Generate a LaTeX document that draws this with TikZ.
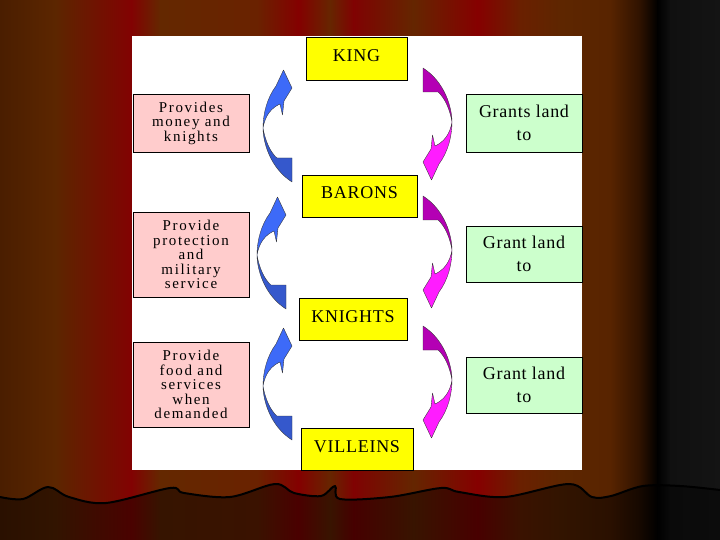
\documentclass[tikz,border=0pt]{standalone}
\usepackage{fontspec}
\setmainfont{Liberation Serif}
\newfontfamily\bigf[LetterSpace=4]{Liberation Serif}
\newfontfamily\smallf[LetterSpace=11]{Liberation Serif}
% bright curtain stops
\definecolor{b0}{HTML}{4A1E00}
\definecolor{b1}{HTML}{5C2600}
\definecolor{b2}{HTML}{820202}
\definecolor{b3}{HTML}{642800}
\definecolor{b4}{HTML}{6A2200}
\definecolor{b5}{HTML}{840000}
\definecolor{b6}{HTML}{662600}
\definecolor{b7}{HTML}{800202}
\definecolor{b8}{HTML}{642600}
\definecolor{b9}{HTML}{860000}
\definecolor{b10}{HTML}{6A2000}
\definecolor{b11}{HTML}{5E2600}
\definecolor{b12}{HTML}{582400}
\definecolor{b13}{HTML}{2E1200}
\definecolor{b14}{HTML}{000000}
\definecolor{b15}{HTML}{101010}
\definecolor{b16}{HTML}{141414}
% dark (below hem) stops
\definecolor{d0}{HTML}{2A1000}
\definecolor{d1}{HTML}{321400}
\definecolor{d2}{HTML}{4A0200}
\definecolor{d3}{HTML}{361400}
\definecolor{d4}{HTML}{3A1200}
\definecolor{d5}{HTML}{4A0000}
\definecolor{d6}{HTML}{381400}
\definecolor{d7}{HTML}{460000}
\definecolor{d8}{HTML}{381400}
\definecolor{d9}{HTML}{480000}
\definecolor{d10}{HTML}{3A1200}
\definecolor{d11}{HTML}{321400}
\definecolor{d12}{HTML}{2A1000}
\definecolor{d13}{HTML}{150800}
\definecolor{d14}{HTML}{000000}
\definecolor{d15}{HTML}{0A0A0A}
\definecolor{d16}{HTML}{0C0C0C}
\definecolor{kingyellow}{HTML}{FFFF00}
\definecolor{pinkbox}{HTML}{FFCCCC}
\definecolor{greenbox}{HTML}{CCFFCC}
\definecolor{bluehead}{HTML}{3D6AF8}
\definecolor{bluetail}{HTML}{3558CC}
\definecolor{maghead}{HTML}{FF1CFF}
\definecolor{magtail}{HTML}{B400B4}
\begin{document}
\begin{tikzpicture}[x=1pt,y=-1pt,
  box/.style={draw=black, line width=0.8pt, inner sep=0pt, outer sep=0pt, align=center},
  ybox/.style={box, fill=kingyellow, font={\bigf\fontsize{18}{23}\selectfont}, text height=12pt, text depth=6pt},
  pbox/.style={box, fill=pinkbox, font={\smallf\fontsize{15}{14.5}\selectfont}, minimum width=116pt},
  gbox/.style={box, fill=greenbox, font={\bigf\fontsize{18}{23.5}\selectfont}, minimum width=116pt},
  shadowline/.style={draw=black, line width=1pt},
  hemline/.style={draw=black, line width=2pt, line join=round},
  arrowedge/.style={draw=black!80, line width=0.35pt, line join=round},
  pics/curvarrow/.style 2 args={code={
    \draw[arrowedge, fill=#1]
      (0,0) .. controls (0,-14) and (4,-30) .. (13,-42) -- (20.5,-58) -- (29,-40)
      -- (21,-27) -- (19.5,-13) -- (17,-24) .. controls (8,-20) and (2,-12) .. cycle;
    \draw[arrowedge, fill=#2]
      (0,0) .. controls (0,14) and (7,40) .. (29,54) -- (29,30) -- (14,30)
      .. controls (7,24) and (2,12) .. cycle;
  }}
]
\useasboundingbox (0,0) rectangle (720,540);
% curtain
\foreach \xa/\xb/\ca/\cb in {0/55/0/1, 55/131/1/2, 131/160/2/3, 160/257/3/4, 257/298/4/5,
  298/330/5/6, 330/353/6/7, 353/413/7/8, 413/477/8/9, 477/520/9/10, 520/560/10/11,
  560/610/11/12, 610/640/12/13, 640/657/13/14, 657/670/14/15, 670/720/15/16}
  \shade[left color=b\ca, right color=b\cb] (\xa,0) rectangle (\xb+0.8,540);
\begin{scope}
  \clip (0,540) -- plot[smooth, tension=0.55] coordinates {(0,497) (23,499) (48,487) (69,497) (106,503) (170,488) (184,493) (230,497) (275,484) (294,493) (321,496) (335,486) (340,499) (390,497) (441,488) (459,492) (505,497) (569,484) (592,497) (611,496) (643,486) (680,486) (720,490)} -- (720,540) -- cycle;
  \foreach \xa/\xb/\ca/\cb in {0/55/0/1, 55/131/1/2, 131/160/2/3, 160/257/3/4, 257/298/4/5,
    298/330/5/6, 330/353/6/7, 353/413/7/8, 413/477/8/9, 477/520/9/10, 520/560/10/11,
    560/610/11/12, 610/640/12/13, 640/657/13/14, 657/670/14/15, 670/720/15/16}
    \shade[left color=d\ca, right color=d\cb] (\xa,480) rectangle (\xb+0.8,540);
\end{scope}
\draw[hemline] plot[smooth, tension=0.55] coordinates {(0,497) (23,499) (48,487) (69,497) (106,503) (170,488) (184,493) (230,497) (275,484) (294,493) (321,496) (335,486) (340,499) (390,497) (441,488) (459,492) (505,497) (569,484) (592,497) (611,496) (643,486) (680,486) (720,490)};
% white panel
\fill[white] (132,36) rectangle (582,470);
% arrows
\pic at (263,128) {curvarrow={bluehead}{bluetail}};
\pic at (257,255) {curvarrow={bluehead}{bluetail}};
\pic at (263,386) {curvarrow={bluehead}{bluetail}};
\pic[rotate=180] at (452,122) {curvarrow={maghead}{magtail}};
\pic[rotate=180] at (452,250) {curvarrow={maghead}{magtail}};
\pic[rotate=180] at (452,380) {curvarrow={maghead}{magtail}};
% boxes
\node[ybox, minimum width=101pt, minimum height=43pt] (king) at (356.5,58.5) {KING};
\node[ybox, minimum width=115pt, minimum height=42pt] (barons) at (359.5,196) {BARONS};
\node[ybox, minimum width=108pt, minimum height=42pt] (knights) at (353,319) {KNIGHTS};
\node[ybox, minimum width=112pt, minimum height=42pt] (villeins) at (357,449) {VILLEINS};
\node[pbox, minimum height=58pt] (p1) at (191,123) {Provides\\money and\\knights};
\node[pbox, minimum height=85pt] (p2) at (191,254.5) {Provide\\protection\\and\\military\\service};
\node[pbox, minimum height=85pt] (p3) at (191,384.5) {Provide\\food and\\services\\when\\demanded};
\node[gbox, minimum height=58pt] (g1) at (524,123) {Grants land\\to};
\node[gbox, minimum height=56pt] (g2) at (524,254) {Grant land\\to};
\node[gbox, minimum height=56pt] (g3) at (524,385) {Grant land\\to};
\foreach \n in {king,barons,knights,villeins,p1,p2,p3,g1,g2,g3}
  \draw[shadowline] ([yshift=-0.5pt]\n.south west) -- ([xshift=0.5pt,yshift=-0.5pt]\n.south east) -- ([xshift=0.5pt]\n.north east);
\end{tikzpicture}
\end{document}
